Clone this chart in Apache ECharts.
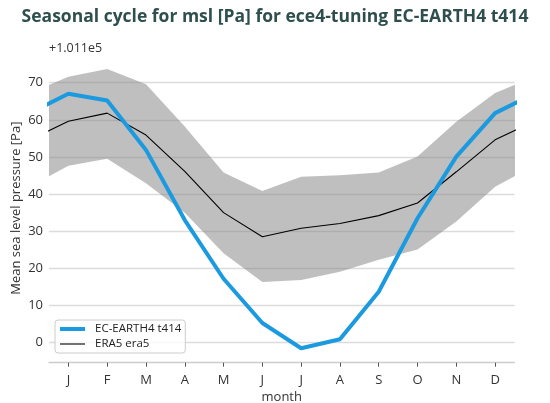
<!DOCTYPE html>
<html>
<head>
<meta charset="utf-8">
<script src="https://cdn.jsdelivr.net/npm/echarts@6/dist/echarts.min.js"></script>
<style>html,body{margin:0;padding:0;background:#fff;}#c{width:550px;height:403px;}</style>
</head>
<body>
<div id="c"></div>
<script>
// Month labels (positions 1..12)
const monthLabels = ['J','F','M','A','M','J','J','A','S','O','N','D'];
const monthPos = [1,2,3,4,5,6,7,8,9,10,11,12];
// EC-EARTH4 t414 (offset from 1.011e5 Pa)
const ecEarth = [67.0, 65.2, 51.9, 33.0, 17.2, 5.3, -1.5, 0.9, 13.7, 33.5, 50.1, 61.8];
// ERA5 era5 mean
const era5 = [59.6, 61.8, 55.9, 46.1, 35.0, 28.5, 30.8, 32.1, 34.2, 37.6, 46.0, 54.6];
// ERA5 band (lower/upper)
const bandLow = [47.6, 49.5, 42.9, 35.0, 24.1, 16.3, 16.9, 19.1, 22.3, 25.1, 32.6, 42.0];
const bandHigh = [71.6, 73.7, 69.6, 58.2, 45.8, 40.8, 44.7, 45.1, 45.8, 50.1, 59.5, 67.2];
const yTicks = [0, 10, 20, 30, 40, 50, 60, 70];

// cyclic wrap: month 0 = December, month 13 = January (clipped by axis range)
function wrapX() { return [0].concat(monthPos, [13]); }
function wrapY(arr) { return [arr[11]].concat(arr, [arr[0]]); }
function wrap(arr) { const xs = wrapX(), ys = wrapY(arr); return xs.map((x, i) => [x, ys[i]]); }
const bandData = wrapX().map((x, i) => [x, wrapY(bandLow)[i], wrapY(bandHigh)[i]]);

const font = 'Open Sans, Noto Sans, DejaVu Sans, sans-serif';
const chart = echarts.init(document.getElementById('c'), null, {renderer: 'canvas'});
chart.setOption({
  animation: false,
  backgroundColor: '#fff',
  textStyle: {fontFamily: font},
  title: [
    {text: 'Seasonal cycle for msl [Pa] for ece4-tuning EC-EARTH4 t414', left: 'center', top: 3,
     textStyle: {fontFamily: font, fontWeight: 'bold', fontSize: 17.5, color: '#2f4f4f'}},
    {text: '+1.011e5', left: 44, top: 37,
     textStyle: {fontFamily: font, fontWeight: 'normal', fontSize: 12.5, color: '#333'}}
  ],
  grid: {left: 49, right: 35.5, top: 53.7, bottom: 40.3, containLabel: false, outerBoundsMode: 'none'},
  legend: {
    data: [
      {name: 'EC-EARTH4 t414', lineStyle: {width: 4, color: '#1b9ae0'}},
      {name: 'ERA5 era5', lineStyle: {width: 1.1, color: '#000'}}
    ],
    orient: 'vertical', left: 55, top: 320,
    itemWidth: 25, itemHeight: 14, itemGap: 3,
    padding: [3, 4, 3, 3],
    itemStyle: {opacity: 0},
    backgroundColor: 'rgba(255,255,255,0.8)',
    borderColor: '#ccc', borderWidth: 1, borderRadius: 3,
    textStyle: {fontFamily: font, fontSize: 11.5, color: '#222', padding: [0, 0, 0, 5]}
  },
  xAxis: {
    type: 'value', min: 0.5, max: 12.5,
    name: 'month', nameLocation: 'middle', nameGap: 28, nameMoveOverlap: false,
    nameTextStyle: {fontFamily: font, fontSize: 13, color: '#333'},
    axisLine: {show: true, onZero: false, lineStyle: {color: '#ccc', width: 1.3}},
    axisTick: {show: true, length: 4, lineStyle: {color: '#555', width: 1}, customValues: monthPos},
    axisLabel: {customValues: monthPos, formatter: v => monthLabels[Math.round(v) - 1] || '',
      fontFamily: font, fontSize: 13, color: '#333', margin: 11},
    splitLine: {show: false}
  },
  yAxis: {
    type: 'value', min: -5.4, max: 77.8,
    name: 'Mean sea level pressure [Pa]', nameLocation: 'middle', nameGap: 26, nameMoveOverlap: false,
    nameTextStyle: {fontFamily: font, fontSize: 13, color: '#333'},
    axisLine: {show: false},
    axisTick: {show: false, customValues: yTicks},
    axisLabel: {customValues: yTicks, fontFamily: font, fontSize: 13, color: '#333', margin: 6},
    splitLine: {show: true, lineStyle: {color: '#dcdcdc', width: 1.3}}
  },
  series: [
    {name: 'band', type: 'custom', data: bandData, clip: true, silent: true, z: 1,
     encode: {x: 0, y: [1, 2]},
     renderItem: function (params, api) {
       if (params.dataIndex !== 0) return null;
       const lo = [], hi = [];
       for (let i = 0; i < bandData.length; i++) {
         lo.push(api.coord([bandData[i][0], bandData[i][1]]));
         hi.push(api.coord([bandData[i][0], bandData[i][2]]));
       }
       const pts = hi.concat(lo.reverse());
       return {type: 'polygon', shape: {points: pts},
         style: {fill: 'rgba(128,128,128,0.5)', stroke: null}};
     }},
    {name: 'ERA5 era5', type: 'line', data: wrap(era5), symbol: 'none',
     lineStyle: {color: '#000', width: 1.1}, itemStyle: {color: '#000'}, clip: true, z: 3},
    {name: 'EC-EARTH4 t414', type: 'line', data: wrap(ecEarth), symbol: 'none',
     lineStyle: {color: '#1b9ae0', width: 4}, itemStyle: {color: '#1b9ae0'}, clip: true, z: 4}
  ]
});
</script>
</body>
</html>
